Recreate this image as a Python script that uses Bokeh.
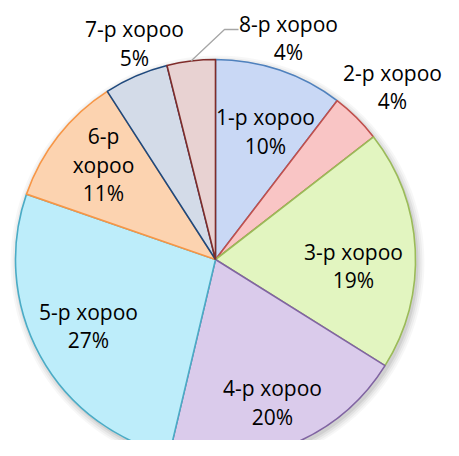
import math
from bokeh.plotting import figure
from bokeh.models import Range1d, ColumnDataSource
from bokeh.core.properties import value
from bokeh.embed import file_html
from bokeh.resources import INLINE

# ---- data ----
districts = ["1-р хороо", "2-р хороо", "3-р хороо", "4-р хороо",
             "5-р хороо", "6-р хороо", "7-р хороо", "8-р хороо"]
shares = [10.4, 4.1, 19.4, 19.8, 26.6, 10.6, 5.2, 3.9]
pct_labels = ["10%", "4%", "19%", "20%", "27%", "11%", "5%", "4%"]

# ---- styles ----
fills = ["#c9d8f5", "#f9c5c5", "#e2f5c0", "#dacbeb",
         "#bdedfa", "#fcd3b0", "#d3dbe8", "#e8d2d2"]
borders = ["#4f81bd", "#c0504d", "#9bbb59", "#8064a2",
           "#4bacc6", "#f79646", "#1f497d", "#7f2c2a"]

W, H = 443, 440
H_REF = 456


def Y(y):
    return H_REF - y


CX, CY, R = 215, Y(259), 200

p = figure(width=W, height=H, output_backend="svg", toolbar_location=None,
           x_range=Range1d(0, W), y_range=Range1d(H_REF - H, H_REF),
           min_border=0)
p.axis.visible = False
p.grid.visible = False
p.outline_line_color = None
p.background_fill_color = "white"

# soft shadow
for k, a in [(7, 0.03), (5, 0.04), (3, 0.05), (1, 0.07)]:
    p.circle(x=[CX + 2], y=[CY - 3], radius=R + k, fill_color="black",
             fill_alpha=a, line_color=None)

total = sum(shares)
starts, ends, cum = [], [], 0.0
for s in shares:
    starts.append(math.pi / 2 - 2 * math.pi * cum / total)
    cum += s
    ends.append(math.pi / 2 - 2 * math.pi * cum / total)

src = ColumnDataSource(dict(x=[CX] * len(shares), y=[CY] * len(shares),
                            start=starts, end=ends, fill=fills, line=borders))
p.wedge(x="x", y="y", radius=R, start_angle="start", end_angle="end",
        direction="clock", fill_color="fill", line_color="line",
        line_width=1.6, source=src)

# leader line for 8-р хороо
mid8 = (starts[7] + ends[7]) / 2
sx, sy = CX + R * math.cos(mid8), CY + R * math.sin(mid8)
p.line(x=[sx, 224, 238], y=[sy, Y(29), Y(29)], line_color="#a6a6a6",
       line_width=1.3)

# label layout (block centres)
label_pos = [(265, 131), (392, 86.5), (353, 265.5), (272, 402),
             (88, 325.5), (103, 164), (134, 43), (288, 37.5)]
STEP = 28.5
tx, ty, tt = [], [], []
for i, name in enumerate(districts):
    lines = (["6-р", "хороо"] if i == 5 else [name]) + [pct_labels[i]]
    x0, yc = label_pos[i]
    n = len(lines)
    for j, ln in enumerate(lines):
        tx.append(x0)
        ty.append(Y(yc + (j - (n - 1) / 2) * STEP))
        tt.append(ln)

p.text(x=tx, y=ty, text=tt, text_font=value("Open Sans"),
       text_font_size="21px", text_align="center", text_baseline="middle",
       text_color="#000000")

open("out.html", "w").write(file_html(p, INLINE))
